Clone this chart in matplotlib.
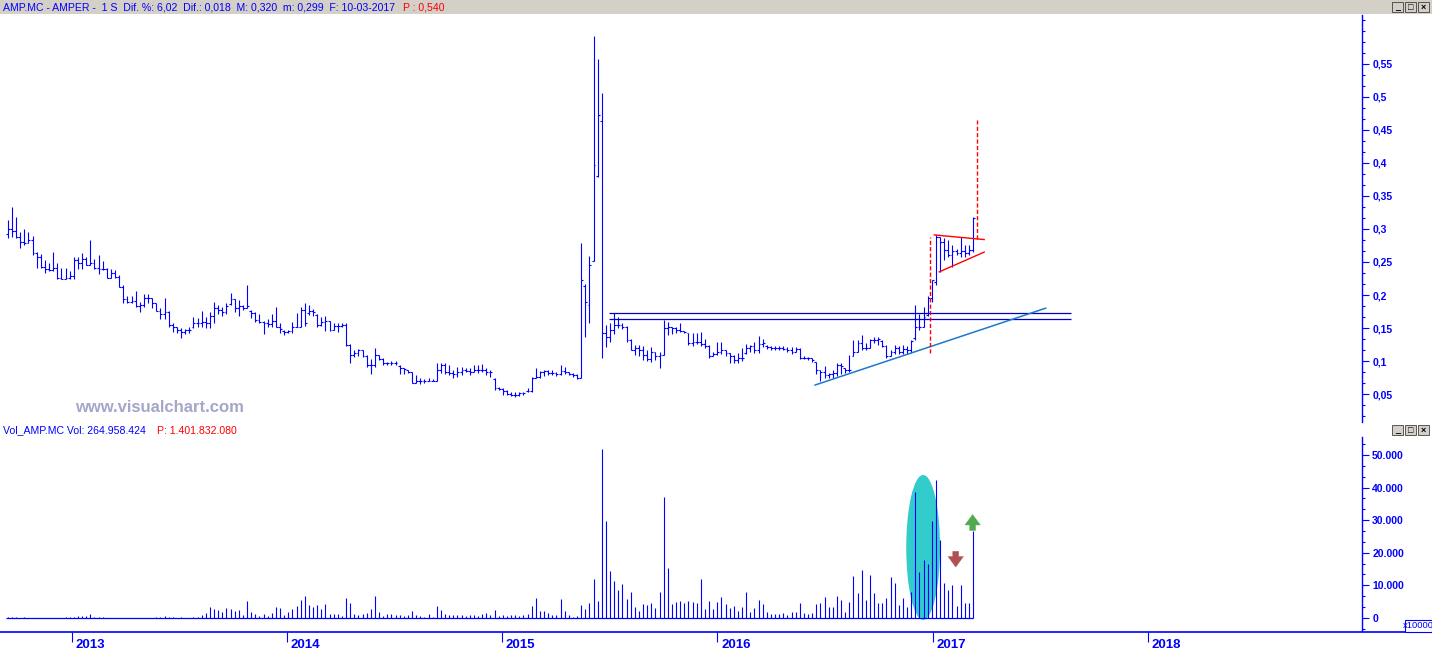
"""
AMPER (AMP.MC) weekly bars + volume, visualchart style
"""
import numpy as np
import pandas as pd
import matplotlib
matplotlib.use("Agg")
import matplotlib.pyplot as plt
from matplotlib.patches import Ellipse, Rectangle, FancyArrowPatch
from matplotlib.ticker import FixedLocator, MultipleLocator, FuncFormatter

plt.rcParams['font.family'] = ['Liberation Sans', 'DejaVu Sans']

# ---- data (one bar per week, first bar 14-09-2012, last 10-03-2017) ----
first_week = "2012-09-14"

opens = [
    0.292, 0.300, 0.297, 0.288, 0.280, 0.279, 0.283, 0.264, 0.258, 0.243,
    0.239, 0.238, 0.241, 0.226, 0.225, 0.226, 0.229, 0.253, 0.248, 0.255,
    0.245, 0.249, 0.241, 0.240, 0.239, 0.226, 0.233, 0.228, 0.212, 0.194,
    0.189, 0.191, 0.183, 0.185, 0.196, 0.196, 0.188, 0.176, 0.171, 0.174,
    0.155, 0.152, 0.147, 0.144, 0.147, 0.152, 0.158, 0.158, 0.159, 0.158,
    0.168, 0.180, 0.177, 0.175, 0.187, 0.194, 0.181, 0.183, 0.181, 0.176,
    0.173, 0.162, 0.159, 0.158, 0.156, 0.160, 0.152, 0.146, 0.144, 0.145,
    0.152, 0.152, 0.177, 0.172, 0.176, 0.170, 0.155, 0.159, 0.160, 0.147,
    0.153, 0.153, 0.155, 0.124, 0.109, 0.112, 0.116, 0.108, 0.094, 0.094,
    0.109, 0.1025, 0.0965, 0.0965, 0.0975, 0.093, 0.089, 0.086, 0.0838, 0.067,
    0.070, 0.070, 0.070, 0.070, 0.070, 0.087, 0.094, 0.084, 0.082, 0.081,
    0.084, 0.0864, 0.085, 0.084, 0.087, 0.087, 0.087, 0.084, 0.073, 0.059,
    0.057, 0.055, 0.050, 0.0485, 0.0485, 0.051, 0.054, 0.055, 0.075, 0.076,
    0.084, 0.085, 0.082, 0.082, 0.080, 0.085, 0.084, 0.080, 0.079, 0.075,
    0.214, 0.185, 0.251, 0.380, 0.463, 0.143, 0.137, 0.147, 0.1545, 0.1545,
    0.152, 0.132, 0.117, 0.119, 0.117, 0.109, 0.1025, 0.114, 0.107, 0.109,
    0.1495, 0.151, 0.1495, 0.147, 0.146, 0.142, 0.127, 0.129, 0.129, 0.126,
    0.122, 0.107, 0.111, 0.114, 0.116, 0.112, 0.107, 0.1015, 0.104, 0.112,
    0.119, 0.122, 0.117, 0.126, 0.123, 0.121, 0.119, 0.119, 0.119, 0.118,
    0.117, 0.114, 0.118, 0.104, 0.104, 0.104, 0.098, 0.086, 0.084, 0.079,
    0.080, 0.082, 0.094, 0.089, 0.086, 0.108, 0.113, 0.127, 0.119, 0.119,
    0.132, 0.132, 0.131, 0.122, 0.108, 0.114, 0.119, 0.114, 0.118, 0.117,
    0.135, 0.151, 0.152, 0.170, 0.195, 0.220, 0.288, 0.280, 0.268, 0.261,
    0.266, 0.263, 0.266, 0.263, 0.268,
]
highs = [
    0.314, 0.333, 0.318, 0.295, 0.300, 0.295, 0.289, 0.265, 0.262, 0.253,
    0.248, 0.265, 0.248, 0.241, 0.241, 0.236, 0.258, 0.258, 0.264, 0.258,
    0.283, 0.255, 0.261, 0.252, 0.241, 0.240, 0.238, 0.230, 0.215, 0.198,
    0.198, 0.206, 0.189, 0.201, 0.201, 0.196, 0.188, 0.180, 0.196, 0.176,
    0.158, 0.152, 0.150, 0.149, 0.152, 0.167, 0.165, 0.176, 0.167, 0.174,
    0.189, 0.185, 0.182, 0.188, 0.203, 0.194, 0.192, 0.185, 0.215, 0.177,
    0.174, 0.171, 0.161, 0.164, 0.171, 0.182, 0.158, 0.147, 0.147, 0.159,
    0.173, 0.182, 0.188, 0.185, 0.179, 0.171, 0.167, 0.168, 0.161, 0.157,
    0.158, 0.158, 0.158, 0.126, 0.116, 0.118, 0.116, 0.109, 0.1025, 0.119,
    0.109, 0.104, 0.099, 0.1005, 0.1005, 0.094, 0.090, 0.0864, 0.0838, 0.079,
    0.074, 0.072, 0.074, 0.072, 0.0965, 0.0965, 0.0965, 0.094, 0.0864, 0.091,
    0.091, 0.090, 0.089, 0.094, 0.094, 0.0955, 0.089, 0.086, 0.074, 0.061,
    0.059, 0.056, 0.0535, 0.0535, 0.0535, 0.0535, 0.0586, 0.076, 0.090, 0.085,
    0.086, 0.087, 0.086, 0.084, 0.094, 0.091, 0.084, 0.082, 0.081, 0.279,
    0.217, 0.259, 0.592, 0.557, 0.506, 0.1545, 0.157, 0.172, 0.166, 0.157,
    0.153, 0.134, 0.124, 0.124, 0.122, 0.117, 0.121, 0.114, 0.114, 0.162,
    0.1596, 0.152, 0.151, 0.157, 0.146, 0.143, 0.142, 0.142, 0.144, 0.134,
    0.124, 0.113, 0.129, 0.129, 0.117, 0.112, 0.109, 0.112, 0.119, 0.126,
    0.124, 0.129, 0.138, 0.134, 0.124, 0.123, 0.123, 0.123, 0.123, 0.121,
    0.121, 0.121, 0.119, 0.1076, 0.1066, 0.104, 0.099, 0.086, 0.092, 0.082,
    0.086, 0.0975, 0.0965, 0.090, 0.109, 0.132, 0.132, 0.139, 0.127, 0.134,
    0.137, 0.137, 0.132, 0.124, 0.117, 0.125, 0.123, 0.124, 0.123, 0.132,
    0.185, 0.171, 0.182, 0.198, 0.223, 0.291, 0.288, 0.286, 0.283, 0.276,
    0.269, 0.288, 0.276, 0.276, 0.318,
]
lows = [
    0.286, 0.288, 0.286, 0.271, 0.276, 0.279, 0.260, 0.241, 0.241, 0.233,
    0.236, 0.236, 0.224, 0.224, 0.225, 0.225, 0.224, 0.239, 0.239, 0.245,
    0.245, 0.239, 0.232, 0.238, 0.226, 0.226, 0.226, 0.212, 0.188, 0.188,
    0.188, 0.182, 0.174, 0.182, 0.188, 0.181, 0.176, 0.164, 0.164, 0.152,
    0.144, 0.142, 0.135, 0.141, 0.142, 0.150, 0.151, 0.152, 0.150, 0.150,
    0.158, 0.171, 0.168, 0.171, 0.185, 0.174, 0.168, 0.177, 0.180, 0.165,
    0.159, 0.158, 0.141, 0.152, 0.151, 0.152, 0.142, 0.139, 0.142, 0.142,
    0.152, 0.152, 0.153, 0.170, 0.168, 0.152, 0.153, 0.146, 0.145, 0.147,
    0.144, 0.152, 0.123, 0.0975, 0.106, 0.108, 0.106, 0.091, 0.081, 0.091,
    0.1015, 0.094, 0.094, 0.094, 0.094, 0.080, 0.081, 0.0823, 0.066, 0.066,
    0.065, 0.067, 0.069, 0.069, 0.069, 0.082, 0.081, 0.079, 0.074, 0.076,
    0.079, 0.084, 0.079, 0.084, 0.082, 0.084, 0.079, 0.076, 0.056, 0.056,
    0.0485, 0.0485, 0.047, 0.045, 0.047, 0.0485, 0.0535, 0.0535, 0.074, 0.074,
    0.077, 0.079, 0.079, 0.077, 0.079, 0.081, 0.079, 0.076, 0.072, 0.075,
    0.136, 0.158, 0.251, 0.379, 0.104, 0.1207, 0.129, 0.141, 0.1495, 0.148,
    0.129, 0.116, 0.109, 0.107, 0.1015, 0.1005, 0.099, 0.1015, 0.090, 0.109,
    0.139, 0.141, 0.143, 0.144, 0.143, 0.124, 0.122, 0.126, 0.122, 0.119,
    0.104, 0.107, 0.109, 0.111, 0.107, 0.0965, 0.0975, 0.0965, 0.1005, 0.111,
    0.114, 0.112, 0.112, 0.121, 0.118, 0.116, 0.116, 0.116, 0.116, 0.114,
    0.111, 0.114, 0.1025, 0.1025, 0.1015, 0.099, 0.081, 0.070, 0.075, 0.074,
    0.075, 0.077, 0.080, 0.082, 0.084, 0.107, 0.113, 0.117, 0.117, 0.119,
    0.127, 0.124, 0.121, 0.104, 0.107, 0.111, 0.111, 0.111, 0.111, 0.112,
    0.132, 0.147, 0.152, 0.168, 0.190, 0.215, 0.235, 0.253, 0.258, 0.243,
    0.261, 0.258, 0.258, 0.261, 0.265,
]
closes = [
    0.300, 0.297, 0.288, 0.280, 0.279, 0.283, 0.264, 0.258, 0.243, 0.239,
    0.238, 0.241, 0.226, 0.225, 0.226, 0.229, 0.253, 0.248, 0.255, 0.245,
    0.249, 0.241, 0.240, 0.239, 0.226, 0.233, 0.228, 0.212, 0.194, 0.189,
    0.191, 0.183, 0.185, 0.196, 0.196, 0.188, 0.176, 0.171, 0.174, 0.155,
    0.152, 0.147, 0.144, 0.147, 0.147, 0.158, 0.158, 0.159, 0.158, 0.168,
    0.180, 0.177, 0.175, 0.183, 0.194, 0.181, 0.183, 0.181, 0.183, 0.173,
    0.162, 0.159, 0.158, 0.156, 0.160, 0.152, 0.148, 0.144, 0.145, 0.152,
    0.152, 0.177, 0.157, 0.176, 0.174, 0.155, 0.159, 0.160, 0.147, 0.153,
    0.153, 0.155, 0.124, 0.109, 0.112, 0.116, 0.108, 0.094, 0.094, 0.109,
    0.1025, 0.0965, 0.0965, 0.0975, 0.0975, 0.089, 0.0874, 0.0838, 0.067, 0.070,
    0.070, 0.070, 0.070, 0.070, 0.087, 0.094, 0.084, 0.082, 0.081, 0.084,
    0.0864, 0.085, 0.084, 0.087, 0.087, 0.087, 0.084, 0.084, 0.059, 0.057,
    0.055, 0.050, 0.0485, 0.0485, 0.051, 0.051, 0.055, 0.075, 0.076, 0.084,
    0.085, 0.082, 0.082, 0.080, 0.085, 0.084, 0.080, 0.079, 0.074, 0.222,
    0.189, 0.245, 0.397, 0.473, 0.143, 0.137, 0.147, 0.1545, 0.1545, 0.152,
    0.132, 0.117, 0.119, 0.117, 0.109, 0.1025, 0.114, 0.107, 0.109, 0.1495,
    0.151, 0.1495, 0.147, 0.146, 0.144, 0.127, 0.129, 0.129, 0.126, 0.122,
    0.107, 0.111, 0.114, 0.116, 0.112, 0.107, 0.1015, 0.104, 0.104, 0.119,
    0.122, 0.117, 0.126, 0.127, 0.121, 0.119, 0.119, 0.119, 0.118, 0.117,
    0.114, 0.118, 0.104, 0.104, 0.104, 0.1015, 0.086, 0.084, 0.079, 0.080,
    0.082, 0.094, 0.092, 0.086, 0.086, 0.113, 0.127, 0.119, 0.119, 0.132,
    0.132, 0.134, 0.122, 0.108, 0.114, 0.119, 0.114, 0.118, 0.117, 0.131,
    0.151, 0.152, 0.167, 0.195, 0.222, 0.288, 0.280, 0.268, 0.261, 0.266,
    0.263, 0.266, 0.263, 0.268, 0.317,
]
# weekly volume, in thousands of the axis unit (axis is x10000 shares)
volumes = [
    0.4, 0.4, 0.4, 0, 0.4, 0, 0, 0, 0, 0,
    0, 0, 0, 0, 0.4, 0.4, 0.4, 0.5, 0.5, 0.5,
    1.1, 0.4, 0.4, 0.4, 0, 0, 0, 0, 0, 0,
    0, 0, 0, 0, 0, 0, 0.4, 0.4, 0.7, 0.4,
    0.4, 0, 0.4, 0, 0, 0.4, 0.4, 1.0, 1.6, 3.2,
    2.7, 2.5, 1.9, 3.0, 2.7, 2.1, 2.5, 0.8, 5.2, 1.8,
    1.1, 0.5, 1.1, 0.5, 1.6, 3.4, 3.0, 0.8, 1.8, 2.7,
    3.7, 5.5, 6.8, 3.8, 3.4, 3.8, 2.7, 4.1, 1.1, 1.1,
    1.1, 0.7, 6.1, 4.4, 1.1, 0.8, 1.1, 1.4, 2.7, 6.8,
    1.9, 0.7, 1.1, 1.1, 0.8, 0.8, 0.5, 0.8, 2.0, 0.8,
    0.5, 0.3, 1.1, 0.4, 3.6, 2.5, 1.1, 0.8, 0.8, 0.8,
    0.8, 0.5, 0.8, 0.8, 0.5, 1.1, 1.4, 0.8, 2.5, 0.5,
    1.0, 0.5, 1.0, 1.0, 0.7, 1.0, 1.3, 3.5, 6.2, 2.2,
    2.2, 1.5, 1.0, 1.0, 5.9, 2.2, 1.0, 0.4, 0.7, 3.8,
    2.6, 4.7, 11.8, 5.3, 51.9, 29.8, 14.5, 11.4, 8.4, 10.5,
    5.9, 7.8, 3.2, 2.2, 4.1, 3.8, 4.7, 2.9, 7.8, 37.2,
    15.4, 4.1, 5.0, 5.3, 4.4, 5.3, 5.0, 4.4, 11.8, 2.6,
    5.3, 2.6, 5.0, 6.5, 4.1, 2.9, 3.5, 2.2, 3.2, 7.8,
    1.9, 2.9, 5.6, 4.1, 1.9, 1.3, 1.3, 1.3, 1.6, 1.0,
    1.9, 1.9, 4.7, 1.6, 1.3, 1.6, 4.1, 4.4, 6.5, 3.2,
    3.2, 6.8, 5.6, 1.9, 5.0, 12.7, 7.5, 14.8, 5.6, 13.0,
    7.5, 4.7, 4.7, 6.2, 12.4, 10.8, 3.8, 6.2, 3.2, 7.8,
    38.7, 14.2, 17.9, 16.4, 29.8, 42.4, 24.0, 10.8, 8.4, 10.2,
    3.5, 10.2, 4.7, 4.7, 26.5,
]
year_labels = [2013, 2014, 2015, 2016, 2017, 2018]

# hand-drawn studies on the chart, in (bar number, price) units
resistance_levels = [0.172, 0.163]
resistance_span = [145.7, 257.7]
trend_line = [(195.7, 0.0636), (251.6, 0.180)]
target_lines = [(223.6, 0.112, 0.288), (234.9, 0.285, 0.465)]
triangle_top = [(224.6, 0.291), (236.7, 0.284)]
triangle_bottom = [(225.8, 0.235), (236.7, 0.265)]
# volume highlights: ellipse (centre bar, centre vol, width, height) and arrows
vol_ellipse = (221.9, 21.6, 8.2, 44.5)
down_arrow = (229.8, 20.4, 15.6)
up_arrow = (233.9, 26.8, 31.7)

assert len(opens) == len(highs) == len(lows) == len(closes) == len(volumes)

BLUE = "#0000ff"
W, H = 1432, 652

weeks = pd.date_range(first_week, periods=len(closes), freq="7D")
x = np.arange(len(closes))
year_pos = [(pd.Timestamp(f"{y}-01-01") - weeks[0]).days / 7 for y in year_labels]

# x range: bar 0 sits 7.8 px from the left, 4.125 px per week, axes 1362 px wide
x_left = -7.8 / 4.125
x_right = (1362 - 7.8) / 4.125

fig = plt.figure(figsize=(W / 100, H / 100), dpi=100)
fig.patch.set_facecolor("white")


def px_axes(x0, y0, x1, y1):
    return fig.add_axes([x0 / W, 1 - y1 / H, (x1 - x0) / W, (y1 - y0) / H])


def style_right_axis(ax):
    for side in ("left", "top", "bottom"):
        ax.spines[side].set_visible(False)
    ax.spines["right"].set_color(BLUE)
    ax.spines["right"].set_linewidth(1.0)
    ax.yaxis.tick_right()
    ax.tick_params(axis="y", which="major", length=4.8, width=0.8, color=BLUE,
                   labelcolor=BLUE, labelsize=7.5, pad=2.5)
    ax.tick_params(axis="y", which="minor", length=2.4, width=0.8, color=BLUE)
    ax.tick_params(axis="x", bottom=False, labelbottom=False)
    ax.set_xlim(x_left, x_right)
    ax.patch.set_alpha(0)


# ---- price panel ----
ax = px_axes(0, 15, 1362, 422)
ax.set_ylim(0.0076, 0.6242)
ax.yaxis.set_major_locator(FixedLocator(np.arange(0.05, 0.56, 0.05)))
ax.yaxis.set_minor_locator(MultipleLocator(0.05 / 3))
ax.yaxis.set_major_formatter(FuncFormatter(
    lambda v, p: f"{v:.2f}".rstrip("0").replace(".", ",")))
style_right_axis(ax)
for lab in ax.get_yticklabels():
    lab.set_fontweight("bold")

ax.vlines(x, lows, highs, color=BLUE, lw=0.8)
ax.hlines(opens, x - 0.45, x, color=BLUE, lw=0.8)
ax.hlines(closes, x, x + 0.45, color=BLUE, lw=0.8)

ax.hlines(resistance_levels, *resistance_span, color="#0000cc", lw=0.9)
(tx0, ty0), (tx1, ty1) = trend_line
ax.plot([tx0, tx1], [ty0, ty1], color="#1e78cc", lw=1.1)
for vx, v0, v1 in target_lines:
    ax.plot([vx, vx], [v0, v1], color="#ff0000", lw=1.0, dashes=(3, 1.6))
for seg in (triangle_top, triangle_bottom):
    ax.plot([p[0] for p in seg], [p[1] for p in seg], color="#ff0000", lw=1.0)

ax.text(75 / 1362, (422 - 407) / 407, "www.visualchart.com", transform=ax.transAxes,
        fontsize=12, fontweight="bold", color="#a3a7c8", va="center", ha="left")

# ---- volume panel ----
vax = px_axes(0, 437, 1362, 632)
vax.set_ylim(-4.35, 55.5)
vax.yaxis.set_major_locator(FixedLocator(np.arange(0, 51, 10)))
vax.yaxis.set_minor_locator(MultipleLocator(10 / 3))
vax.yaxis.set_major_formatter(FuncFormatter(
    lambda v, p: f"{int(round(v * 1000)):,}".replace(",", ".")))
style_right_axis(vax)
for lab in vax.get_yticklabels():
    lab.set_fontweight("bold")

ex, ey, ew, eh = vol_ellipse
vax.add_patch(Ellipse((ex, ey), ew, eh, facecolor="#33cccc", edgecolor="none", zorder=1))
vax.vlines(x, 0, volumes, color=BLUE, lw=0.8, zorder=2)
vax.hlines(0, x[0] - 0.5, x[-1], color=BLUE, lw=0.9, zorder=2)

for (ax_x, y_from, y_to), col in ((down_arrow, "#b05050"), (up_arrow, "#50aa50")):
    vax.add_patch(FancyArrowPatch(
        (ax_x, y_from), (ax_x, y_to), mutation_scale=10, shrinkA=0, shrinkB=0,
        arrowstyle="simple,head_length=0.75,head_width=1.1,tail_width=0.42",
        facecolor=col, edgecolor=col, lw=0.3, zorder=3))

# ---- date axis ----
dax = px_axes(0, 632, 1432, 652)
dax.set_xlim(x_left, x_left + (x_right - x_left) * 1432 / 1362)
dax.set_ylim(0, 1)
for side in ("left", "right", "bottom"):
    dax.spines[side].set_visible(False)
dax.spines["top"].set_color(BLUE)
dax.spines["top"].set_linewidth(1.2)
dax.set_xticks(year_pos)
dax.tick_params(axis="x", top=True, bottom=False, labelbottom=False, labeltop=False,
                direction="in", length=7, width=0.8, color=BLUE)
dax.set_yticks([])
for pos, lab in zip(year_pos, year_labels):
    dax.text(pos + 0.9, 0.33, str(lab), color=BLUE, fontsize=9.5, fontweight="bold",
             va="center", ha="left")

# x10000 box, drawn above the axes
fig.patches.append(Rectangle((1405 / W, 1 - 632 / H), 27 / W, 12 / H,
                             transform=fig.transFigure, facecolor="white",
                             edgecolor=BLUE, lw=0.8, zorder=5))
fig.text(1418.5 / W, 1 - 626 / H, "x10000", fontsize=6.8, color=BLUE,
         ha="center", va="center", zorder=6)

# ---- header strip and panel titles ----
fig.patches.append(Rectangle((0, 1 - 14 / H), 1, 14 / H, transform=fig.transFigure,
                             facecolor="#d4d0c8", edgecolor="none", zorder=0))
fig.text(3 / W, 1 - 7.5 / H,
         "AMP.MC - AMPER -  1 S  Dif. %: 6,02  Dif.: 0,018  M: 0,320  m: 0,299  F: 10-03-2017",
         fontsize=7.6, color=BLUE, va="center", ha="left")
fig.text(403 / W, 1 - 7.5 / H, "P : 0,540", fontsize=7.6, color="#ff0000", va="center", ha="left")
fig.text(3 / W, 1 - 430.5 / H, "Vol_AMP.MC Vol: 264.958.424", fontsize=7.6, color=BLUE,
         va="center", ha="left")
fig.text(157 / W, 1 - 430.5 / H, "P: 1.401.832.080", fontsize=7.6, color="#ff0000",
         va="center", ha="left")

# window buttons (minimise / maximise / close) for both panels
for top in (2, 425):
    for bx, sym in ((1392, "_"), (1405, "□"), (1418, "×")):
        fig.patches.append(Rectangle((bx / W, 1 - (top + 10) / H), 11 / W, 10 / H,
                                     transform=fig.transFigure, facecolor="#d4d0c8",
                                     edgecolor="#404040", lw=0.6))
        fig.text((bx + 5.5) / W, 1 - (top + 5.5) / H, sym, fontsize=6.5, fontweight="bold",
                 color="black", ha="center", va="center")

fig.savefig("out.png", dpi=100)
